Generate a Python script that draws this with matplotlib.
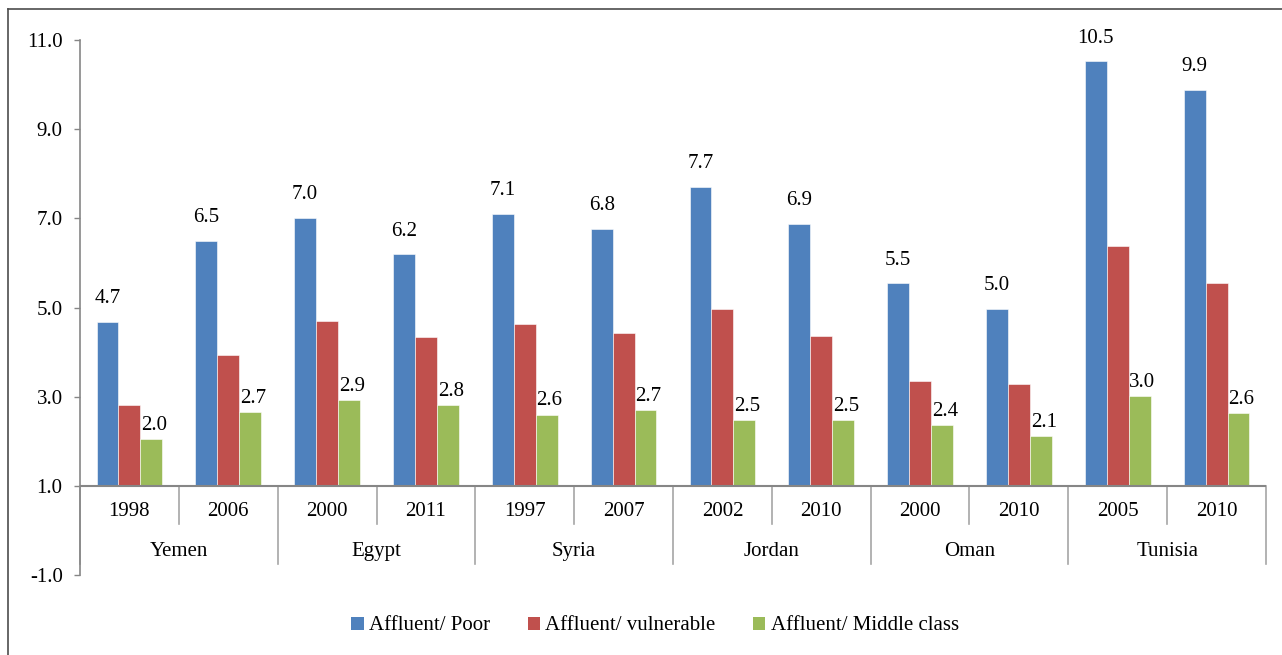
import numpy as np
import matplotlib
matplotlib.use("Agg")
import matplotlib.pyplot as plt
from matplotlib.lines import Line2D
from matplotlib.patches import Patch

plt.rcParams['font.family'] = ['Liberation Serif', 'DejaVu Serif']
plt.rcParams['axes.unicode_minus'] = False

# data
countries = ["Yemen", "Egypt", "Syria", "Jordan", "Oman", "Tunisia"]
years = ["1998", "2006", "2000", "2011", "1997", "2007",
         "2002", "2010", "2000", "2010", "2005", "2010"]
affluent_poor = [4.67, 6.49, 7.01, 6.19, 7.10, 6.76, 7.71, 6.87, 5.54, 4.96, 10.52, 9.87]
affluent_vulnerable = [2.81, 3.94, 4.70, 4.33, 4.63, 4.43, 4.97, 4.36, 3.35, 3.29, 6.38, 5.56]
affluent_middle = [2.04, 2.66, 2.92, 2.81, 2.60, 2.70, 2.48, 2.47, 2.37, 2.12, 3.02, 2.63]
series_names = ["Affluent/ Poor", "Affluent/ vulnerable", "Affluent/ Middle class"]
colors = ["#4F81BD", "#C0504D", "#9BBB59"]
base = 1.0
fs = 15

W, H = 1282, 655
fig = plt.figure(figsize=(W / 100, H / 100), dpi=100)
ax = fig.add_axes([80 / W, (H - 575) / H, (1266 - 80) / W, (575 - 40) / H])

x = np.arange(len(years))
bw = 0.222
series = [affluent_poor, affluent_vulnerable, affluent_middle]
for k, vals in enumerate(series):
    vals = np.array(vals)
    ax.bar(x + (k - 1) * bw, vals - base, bottom=base, width=bw,
           color=colors[k], edgecolor="white", linewidth=0.4)

# data labels on blue and green bars
for xi, v in zip(x, affluent_poor):
    ax.annotate(f"{v:.1f}", (xi - bw, v), xytext=(0, 10), textcoords="offset points",
                ha="center", va="bottom", fontsize=fs)
for xi, v in zip(x, affluent_middle):
    ax.annotate(f"{v:.1f}", (xi + bw, v), xytext=(2, 3), textcoords="offset points",
                ha="center", va="bottom", fontsize=fs)

ax.set_xlim(-0.5, len(years) - 0.5)
ax.set_ylim(-1, 11)
ax.set_yticks(np.arange(-1, 12, 2))
ax.set_yticklabels([f"{t:.1f}" for t in np.arange(-1, 12, 2)], fontsize=fs)
ax.set_xticks([])
ax.tick_params(axis="y", direction="out", length=4.5, width=1, color="#868686", pad=8)
for s in ["top", "right", "bottom"]:
    ax.spines[s].set_visible(False)
ax.spines["left"].set_color("#868686")
ax.spines["left"].set_linewidth(1.2)

# category axis at y=1
ax.axhline(base, color="#868686", linewidth=1.5, zorder=3)
gray = "#A6A6A6"
for i in range(len(years) + 1):
    xb = i - 0.5
    low = -0.75 if i % 2 == 0 else 0.15
    ax.plot([xb, xb], [base, low], color=gray, linewidth=1.2, clip_on=False)
for xi, yr in zip(x, years):
    ax.text(xi, 0.42, yr, ha="center", va="center", fontsize=fs)
for j, c in enumerate(countries):
    ax.text(2 * j + 0.5, -0.47, c, ha="center", va="center", fontsize=fs)

handles = [Patch(facecolor=c, edgecolor="none") for c in colors]
fig.legend(handles, series_names, loc="center", bbox_to_anchor=(655 / W, 1 - 626 / H),
           ncol=3, frameon=False, fontsize=fs, handlelength=0.6, handleheight=0.6,
           handletextpad=0.25, columnspacing=1.8)

# outer border (top and left visible)
fig.add_artist(Line2D([8 / W, 1], [1 - 9 / H, 1 - 9 / H], color="#4D4D4D", linewidth=1.2))
fig.add_artist(Line2D([8 / W, 8 / W], [0, 1 - 9 / H], color="#4D4D4D", linewidth=1.2))

fig.savefig("out.png", dpi=100)
